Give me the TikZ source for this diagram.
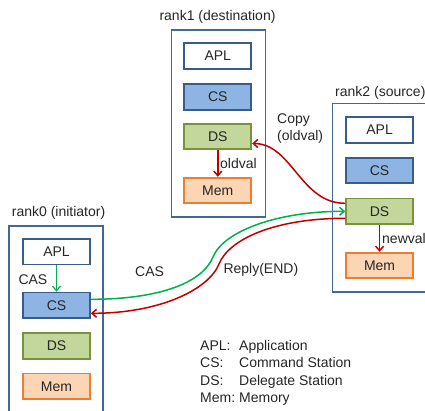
\documentclass[tikz,border=0pt]{standalone}
\usepackage{fontspec}
\setmainfont{Liberation Sans}
\usetikzlibrary{arrows.meta}
\definecolor{frameblue}{RGB}{65,105,150}
\definecolor{boxblue}{RGB}{56,93,138}
\definecolor{csfill}{RGB}{142,180,227}
\definecolor{dsfill}{RGB}{195,214,155}
\definecolor{dsline}{RGB}{119,147,60}
\definecolor{memfill}{RGB}{252,213,181}
\definecolor{memline}{RGB}{237,125,49}
\definecolor{arrgreen}{RGB}{0,176,80}
\definecolor{arrred}{RGB}{192,0,0}
\begin{document}
\begin{tikzpicture}[x=1pt,y=-1pt,
  every node/.style={font=\fontsize{14}{17}\selectfont, inner sep=0pt, text=black!85},
  container/.style={draw=frameblue, line width=1.6pt, minimum width=94pt},
  box/.style={draw, line width=1.8pt, minimum width=67pt, minimum height=25.7pt},
  aplbox/.style={box, draw=boxblue, fill=white},
  csbox/.style={box, draw=boxblue, fill=csfill},
  dsbox/.style={box, draw=dsline, fill=dsfill},
  membox/.style={box, draw=memline, fill=memfill},
  tip/.style={-{Straight Barb[length=4.5pt,width=8pt]}},
  greenarrow/.style={draw=arrgreen, line width=1.5pt, tip},
  redarrow/.style={draw=arrred, line width=1.5pt, tip},
  lbl/.style={anchor=base west}
]
\useasboundingbox (0,0) rectangle (425,410);
\clip (0,0) rectangle (425,410);

% containers
\node[container, minimum height=187pt] (r1) at (218.3,123.5) {};
\node[container, minimum width=100pt, minimum height=188.5pt] (r2) at (382.5,197.75) {};
\node[container, minimum height=199pt] (r0) at (56.25,325.4) {};

\node[anchor=base] (r1lbl) at (217.5,20.5) {rank1 (destination)};
\node[lbl] (r2lbl) at (335,96) {rank2 (source)};
\node[lbl] (r0lbl) at (11.7,216) {rank0 (initiator)};

% rank1 boxes
\node[aplbox] (r1apl) at (217.8,55.8) {APL};
\node[csbox] (r1cs) at (217.8,96.8) {CS};
\node[dsbox] (r1ds) at (217.8,136.5) {DS};
\node[membox] (r1mem) at (217.8,190.5) {Mem};

% rank2 boxes
\node[aplbox] (r2apl) at (379.6,130) {APL};
\node[csbox] (r2cs) at (379.6,170.5) {CS};
\node[dsbox] (r2ds) at (379.6,211.3) {DS};
\node[membox] (r2mem) at (379.6,265.5) {Mem};

% rank0 boxes
\node[aplbox] (r0apl) at (56.5,251.7) {APL};
\node[csbox] (r0cs) at (56.5,305.3) {CS};
\node[dsbox] (r0ds) at (56.5,345.8) {DS};
\node[membox] (r0mem) at (56.5,386.3) {Mem};

% local arrows
\draw[redarrow] (r1ds.south) -- (r1mem.north);
\draw[redarrow] (r2ds.south) -- (r2mem.north);
\draw[greenarrow, line width=1.2pt] (r0apl.south) -- (r0cs.north);

% curve midpoints
\coordinate (gm) at (213,257);
\coordinate (rm) at (219,264);

% CAS request
\draw[greenarrow] ([yshift=6pt]r0cs.east) .. controls +(70,0) and +(-10,25) .. (gm)
   .. controls +(10,-25) and +(-70,0) .. (r2ds.west);
% Reply
\draw[redarrow] ([yshift=-7pt]r2ds.west) .. controls +(-70,0) and +(10,-25) .. (rm)
   .. controls +(-10,25) and +(70,0) .. ([yshift=-8pt]r0cs.east);
% Copy
\draw[redarrow] ([yshift=8pt]r2ds.west) .. controls +(-45,0) and +(40,0) .. ([yshift=-7pt]r1ds.east);

% labels
\node[anchor=north west, align=left] (copylbl) at (277,114) {Copy\\(oldval)};
\node[lbl] (oldlbl) at (220,168) {oldval};
\node[lbl] (newlbl) at (382,243) {newval};
\node[lbl] (cas1) at (18.3,284) {CAS};
\node[lbl] (cas2) at (135,276.5) {CAS};
\node[lbl] (reply) at (223.3,273.5) {Reply(END)};

% legend
\node[lbl] (leg1) at (200,350.5) {\makebox[39pt][l]{APL:}Application};
\node[lbl] (leg2) at (200,367.8) {\makebox[39pt][l]{CS:}Command Station};
\node[lbl] (leg3) at (200,385.1) {\makebox[39pt][l]{DS:}Delegate Station};
\node[lbl] (leg4) at (200,402.4) {\makebox[39pt][l]{Mem:}Memory};
\end{tikzpicture}
\end{document}
